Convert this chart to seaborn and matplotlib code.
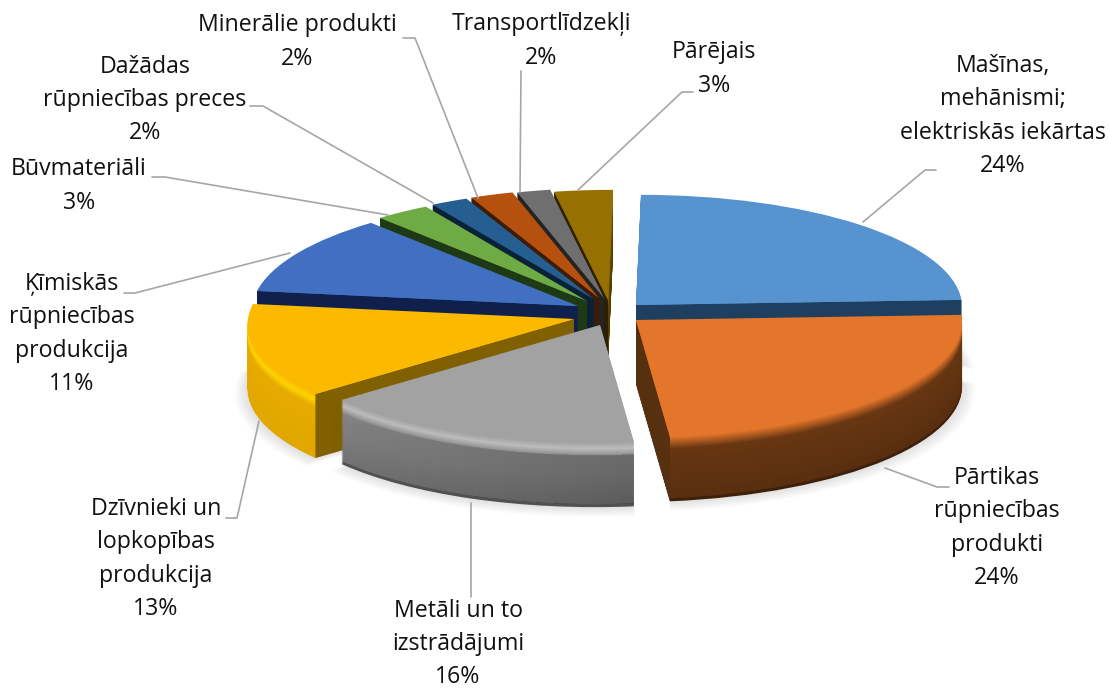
import numpy as np
import seaborn as sns
import matplotlib
matplotlib.use("Agg")
import matplotlib.pyplot as plt
from matplotlib import transforms as mtrans

# exports by commodity group, percent (shares, labels show them rounded)
categories = ["Mašīnas,\nmehānismi;\nelektriskās iekārtas", "Pārtikas\nrūpniecības\nprodukti",
              "Metāli un to\nizstrādājumi", "Dzīvnieki un\nlopkopības\nprodukcija",
              "Ķīmiskās\nrūpniecības\nprodukcija", "Būvmateriāli",
              "Dažādas\nrūpniecības preces", "Minerālie produkti", "Transportlīdzekļi", "Pārējais"]
values = [24.4, 24.0, 15.8, 13.3, 11.4, 2.8, 1.9, 2.2, 1.7, 3.0]

top_colors = ["#5693cf", "#e3762b", "#a2a2a2", "#fbba00", "#4170c2", "#6fab45", "#255e91", "#b5500f", "#6f6f6f", "#967000"]
wall_colors = ["#3d6a94", "#6b3813", "#8c8c8c", "#e8ac00", "#2c4b85", "#4b7430", "#193f62", "#7a3609", "#4d4d4d", "#654b00"]
face_colors = ["#1f3f60", "#57300f", "#6a6a6a", "#806000", "#10204c", "#1d3a14", "#0a2238", "#3d1b04", "#242424", "#2b2000"]
wall_dark = [0.18, 0.18, 0.18, 0.03, 0.18, 0.18, 0.18, 0.18, 0.18, 0.18]
highlights = {2: "#bcbcbc", 3: "#ffd400"}
# side lighting on the wall: slice -> overlay colour, alpha per step, angle where it fades out
wall_light = {2: ("#000000", 0.007, 232), 1: ("#c07030", 0.009, 128)}

# where each slice's tip lands on the image (px), depth of the pie etc
tips = [(636, 305), (636, 320), (600, 325), (574, 319), (578, 306), (587, 301), (594, 299), (599, 298), (604, 298), (608, 300)]
draw_order = [9, 8, 7, 6, 5, 0, 4, 3, 1, 2]
W, H = 1109, 692
RX, RY, DEPTH, PERSP, SHEAR = 326, 114, 64, 0.035, 5

# label text position (px), leader line (px)
label_pos = [(1003, 116), (997, 528), (458, 644), (156, 559), (72, 334), (79, 186), (145, 100), (297, 42), (541, 41), (714, 69)]
leaders = [
    [(863, 222), (925, 170), (936, 170)],
    [(885, 468), (937, 487), (949, 487)],
    [(471, 503), (471, 597)],
    [(259, 421), (237, 518), (226, 518)],
    [(290, 253), (135, 293), (124, 293)],
    [(388, 215), (165, 177), (152, 177)],
    [(433, 203), (263, 106), (250, 106)],
    [(478, 198), (415, 38), (403, 38)],
    [(520, 192), (521, 71)],
    [(578, 190), (682, 92), (693, 92)],
]


class PieProjection(mtrans.Transform):
    # tilts the flat unit pie into the picture plane
    input_dims = output_dims = 2

    def __init__(self, tip, z=0):
        super().__init__()
        self.tip = tip
        self.z = z

    def transform_non_affine(self, xy):
        xy = np.asarray(xy, dtype=float)
        s = 1 / (1 + PERSP * xy[:, 1])
        px = self.tip[0] + RX * xy[:, 0] * s + SHEAR * xy[:, 1]
        py = H - self.tip[1] + RY * xy[:, 1] * s - self.z
        return np.column_stack([px, py])


def mix(c1, c2, t):
    return tuple(np.array(matplotlib.colors.to_rgb(c1)) * (1 - t) + np.array(matplotlib.colors.to_rgb(c2)) * t)


def wall_color(i, z):
    c = mix(wall_colors[i], "#000000", wall_dark[i] * z / DEPTH)
    if z > DEPTH - 3 and i != 3:
        c = mix(c, "#000000", 0.3)
    if i in highlights:
        if z < 6:
            return mix(top_colors[i], highlights[i], z / 6)
        if z < 14:
            return mix(highlights[i], c, (z - 6) / 8)
        return c
    if z < 12:
        return mix(top_colors[i], c, z / 12)
    return c


sns.set_theme(style="white")
plt.rcParams['font.family'] = ['Open Sans', 'DejaVu Sans']
fig = plt.figure(figsize=(W / 100, H / 100), dpi=100)
ax = fig.add_axes([0, 0, 1, 1])

angles = np.cumsum([0] + values) / sum(values) * 360
zo = [1]


def one_wedge(i, z, radius, color, alpha=1.0):
    # pie of all values, keep only slice i
    wedges, _ = ax.pie(values, startangle=90, counterclock=False, radius=radius, colors=[color] * len(values))
    for j, w in enumerate(wedges):
        if j != i:
            w.remove()
        else:
            w.set_transform(PieProjection(tips[i], z) + ax.transData)
            w.set_alpha(alpha)
            w.set_linewidth(0)
            w.set_zorder(zo[0])
            zo[0] += 1


def light_wall(i):
    # nested strips along the rim so the colour builds up without seams
    color, alpha, fade = wall_light[i]
    edge = angles[i + 1] if fade < angles[i + 1] else angles[i]
    for th0 in np.linspace(fade, edge, 24, endpoint=False):
        th = np.radians(np.linspace(th0, edge, 30))
        rim = np.column_stack([np.sin(th), np.cos(th)])
        up = PieProjection(tips[i], 12).transform_non_affine(rim)
        low = PieProjection(tips[i], DEPTH - 3).transform_non_affine(rim)
        ring = np.vstack([up, low[::-1]])
        ax.fill(ring[:, 0], ring[:, 1], color=color, alpha=alpha, lw=0, zorder=zo[0])
        zo[0] += 1


# soft shadow under the front slices
for step in range(10, 0, -1):
    for i in [0, 1, 2, 3]:
        one_wedge(i, DEPTH + step * 0.5, 1 + step * 0.004, "#000000", 0.012)

for i in draw_order:
    # outer wall, stacked from the bottom up
    for z in np.arange(DEPTH, 0, -1.0):
        one_wedge(i, z, 1, wall_color(i, z))
    if i in wall_light:
        light_wall(i)
    # cut face that looks toward the viewer
    start, end = np.radians(angles[i]), np.radians(angles[i + 1])
    if np.sin(start) < 0 or np.sin(end) > 0:
        th = start if np.sin(start) < 0 else end
        rim = np.array([[0, 0], [np.sin(th), np.cos(th)]])
        low = PieProjection(tips[i], DEPTH).transform_non_affine(rim)
        up = PieProjection(tips[i], 0).transform_non_affine(rim)
        ax.fill([up[0, 0], up[1, 0], low[1, 0], low[0, 0]], [up[0, 1], up[1, 1], low[1, 1], low[0, 1]],
                color=face_colors[i], lw=0, zorder=zo[0])
        zo[0] += 1
    one_wedge(i, 0, 1, top_colors[i])

ax.set_aspect("auto")
ax.set_xlim(0, W)
ax.set_ylim(0, H)
ax.axis("off")

for (x, y), name, v, line in zip(label_pos, categories, values, leaders):
    ax.text(x, H - y, f"{name}\n{v:.0f}%", ha="center", va="center", fontsize=16.7, color="#111111",
            linespacing=1.51, zorder=zo[0] + 2)
    ax.plot([p[0] for p in line], [H - p[1] for p in line], color="#a6a6a6", lw=1.2, zorder=zo[0] + 1)

fig.savefig("out.png", dpi=100)
